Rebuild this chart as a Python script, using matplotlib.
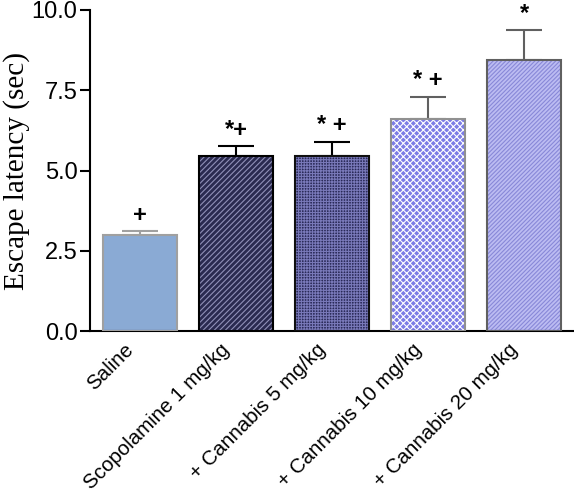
import matplotlib.pyplot as plt
import matplotlib.transforms as mtransforms
import numpy as np

# data
groups = ['Saline', 'Scopolamine 1 mg/kg', '+ Cannabis 5 mg/kg',
          '+ Cannabis 10 mg/kg', '+ Cannabis 20 mg/kg']
latency = [3.0, 5.45, 5.45, 6.6, 8.45]
sem = [0.1, 0.3, 0.43, 0.7, 0.93]
marks = ['+', '*+', '* +', '* +', '*']

face = ['#8aaad4', '#2a2a50', '#2a2a58', '#7c7ce6', '#bcbcf2']
hatch_col = [None, '#9090b8', '#7878b8', '#ffffff', '#8888d8']
hatches = [None, '//////', '++++++', 'xxxxx', '////////']
edge = ['#a0a0a0', '#000000', '#101010', '#909090', '#606060']
err_col = ['#a0a0a0', '#000000', '#000000', '#606060', '#606060']

plt.rcParams['font.family'] = ['Liberation Sans', 'DejaVu Sans']
plt.rcParams['hatch.linewidth'] = 0.8

fig = plt.figure(figsize=(5.74, 4.99), dpi=100)
ax = fig.add_axes([90 / 574, 168 / 499, 484 / 574, 321 / 499])

x = np.arange(len(groups))
w = 0.77

for i in range(len(groups)):
    ax.bar(x[i], latency[i], w, color=face[i], linewidth=0, zorder=2)
    if hatches[i]:
        ax.bar(x[i], latency[i], w, facecolor='none', edgecolor=hatch_col[i],
               hatch=hatches[i], linewidth=0, zorder=3)
    ax.bar(x[i], latency[i], w, facecolor='none', edgecolor=edge[i],
           linewidth=1.5, zorder=4)
    ax.errorbar(x[i], latency[i], yerr=[[0], [sem[i]]], fmt='none',
                ecolor=err_col[i], elinewidth=1.5, capsize=13, capthick=1.5,
                zorder=1)
    ax.text(x[i], latency[i] + sem[i] + 0.15, marks[i], ha='center',
            va='bottom', fontsize=17, fontweight='bold')

ax.set_xlim(-0.52, 4.52)
ax.set_ylim(0, 10)
ax.set_yticks([0, 2.5, 5.0, 7.5, 10.0])
ax.set_yticklabels(['0.0', '2.5', '5.0', '7.5', '10.0'], fontsize=17)
ax.set_xticks(x)
ax.set_xticklabels([])
ax.tick_params(axis='x', length=0)
ax.tick_params(axis='y', length=7, width=1.5, pad=2)

# rotated group names, ending just left of each bar centre
shift = mtransforms.ScaledTranslation(-16 / 100, -9 / 100, fig.dpi_scale_trans)
for i, g in enumerate(groups):
    ax.text(x[i], 0, g, rotation=45, ha='right', va='top',
            rotation_mode='anchor', fontsize=14.8,
            transform=ax.get_xaxis_transform() + shift)

ax.set_ylabel('Escape latency (sec)', family='Liberation Serif', fontsize=21,
              labelpad=1)

for s in ['top', 'right']:
    ax.spines[s].set_visible(False)
for s in ['left', 'bottom']:
    ax.spines[s].set_linewidth(1.5)

fig.savefig('out.png', dpi=100)
